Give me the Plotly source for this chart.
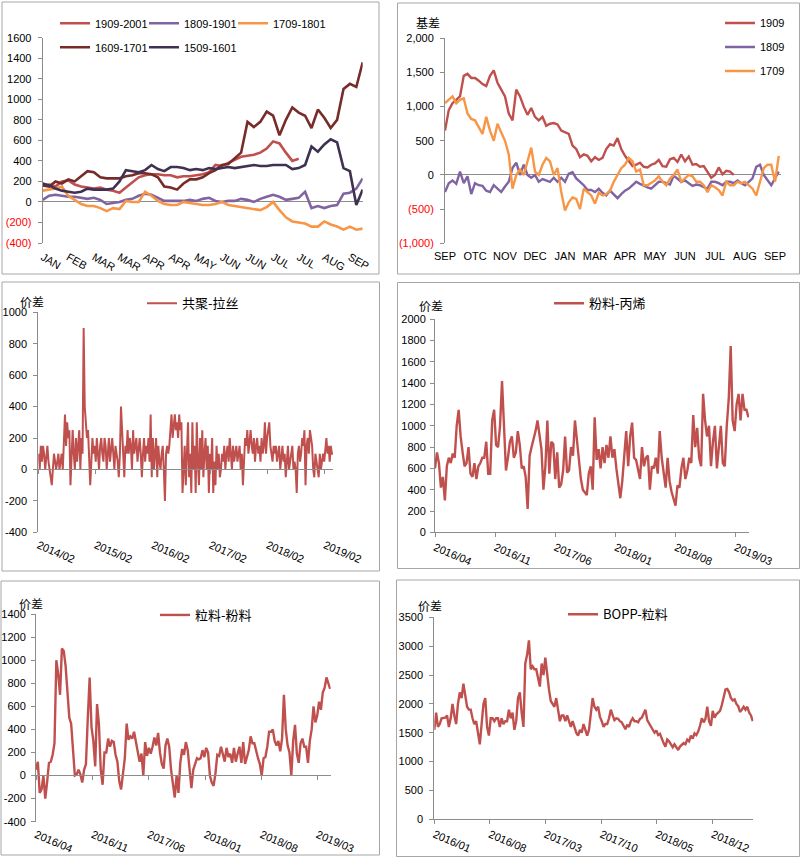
import plotly.graph_objects as go
import pandas as pd

W, H = 804, 859
def fx(p): return p / W
def fy(p): return 1 - p / H

FONT = "Liberation Sans, Arial, Noto Sans CJK SC, sans-serif"
CJK = "Noto Sans CJK SC, Liberation Sans, sans-serif"
AX = "#8C8C8C"
NEG = "#FF0000"

# ---------------- Panel 1: month-aligned spreads ----------------
P1_LABELS = ["JAN", "FEB", "MAR", "MAR", "APR", "APR", "MAY", "JUN", "JUN", "JUL", "JUL", "AUG", "SEP"]
P1_STEP = 0.25
P1_1909_2001 = [160, 170, 150, 200, 210, 170, 150, 140, 130, 140, 120, 110, 90, 140, 190, 240, 260, 270, 270, 260,
                260, 240, 250, 250, 260, 270, 290, 360, 350, 380, 410, 440, 450, 460, 480, 520, 590, 570, 480, 400, 420]
P1_1809_1901 = [20, 60, 70, 60, 50, 50, 40, 30, 40, 20, -20, -10, 0, 20, 30, 60, 80, 70, 40, 10,
                10, 10, 10, 20, 10, 30, 40, 10, 0, 10, 10, 30, 20, 0, 30, 50, 70, 50, 20, 30,
                40, 100, -60, -40, -60, -40, -30, 80, 90, 130, 230]
P1_1709_1801 = [110, 120, 130, 150, 60, 20, -20, -40, -40, -60, -90, -60, -70, 10, 0, 0, 100, 60, 10, -20,
                -30, -30, 0, -10, -20, -30, -30, -20, 0, -30, -40, -50, -60, -70, -80, -50, 0, -80, -150, -190,
                -200, -210, -240, -240, -190, -220, -240, -270, -240, -270, -260]
P1_1609_1701 = [160, 150, 200, 180, 220, 200, 250, 300, 290, 240, 230, 230, 230, 250, 260, 280, 280, 270, 240, 150,
                140, 120, 180, 220, 220, 240, 280, 310, 360, 370, 430, 480, 780, 730, 780, 880, 840, 650, 800, 920,
                870, 840, 720, 900, 820, 720, 800, 1100, 1150, 1120, 1360]
P1_1509_1601 = [180, 160, 130, 110, 100, 90, 100, 130, 120, 120, 120, 130, 200, 310, 300, 290, 310, 360, 320, 300,
                340, 340, 330, 310, 320, 310, 330, 320, 330, 340, 330, 340, 350, 360, 350, 350, 360, 360, 360, 320,
                330, 360, 540, 490, 560, 610, 580, 330, 300, -30, 120]

# ---------------- Panel 2: basis ----------------
P2_LABELS = ["SEP", "OTC", "NOV", "DEC", "JAN", "MAR", "APR", "MAY", "JUN", "JUL", "AUG", "SEP"]
P2_STEP = 0.125
P2_1909 = [650, 950, 1050, 1100, 1150, 1450, 1480, 1420, 1420, 1380, 1330, 1300, 1450, 1530, 1350, 1250,
           1150, 900, 800, 1250, 1150, 1000, 880, 980, 850, 800, 850, 720, 750, 760, 740, 650,
           620, 600, 430, 380, 260, 300, 280, 200, 260, 220, 250, 380, 450, 430, 540, 380,
           280, 200, 130, 150, 180, 120, 110, 150, 170, 220, 130, 120, 230, 250, 190, 300,
           200, 270, 150, 160, 120, 130, 50, -40, 0, 110, 10, 60, 50, 0]
P2_1809 = [-250, -120, -80, -130, 50, -120, -20, -280, -120, -150, -160, -230, -250, -150, -200, -250,
           -170, -100, 100, 180, 0, 150, 0, -40, 0, -100, -60, -80, -100, -40, -100, -40,
           -100, 20, 40, -50, -100, -150, -220, -220, -250, -200, -260, -300, -230, -280, -340, -280,
           -230, -200, -150, -100, -130, -160, -180, -200, -150, -100, -100, -120, -140, -10, -60, -100,
           -80, -120, -160, -140, -150, -180, -200, -100, -100, -120, -150, -100, -100, -120, -80, -120,
           -150, -100, -50, 120, 150, 0, -80, -150, -50, 50]
P2_1709 = [1050, 1100, 1150, 1050, 1100, 1120, 900, 820, 800, 700, 600, 850, 650, 500, 750, 620,
           500, 300, -200, 0, 80, 0, 200, 400, 50, 0, 150, 250, 200, 0, 100, -250,
           -520, -400, -330, -350, -500, -200, -250, -300, -420, -260, -300, -280, -230, -100, 0, 100,
           150, 250, 200, 50, 80, -150, -150, -120, -80, -20, -100, -150, -50, 0, 80, -100,
           -50, 0, -20, -100, -100, -150, -250, -150, -180, -220, -300, -100, -150, -150, -100, -120,
           -100, -150, -200, -300, -100, 100, 150, 150, -100, 280]

# ---------------- Panel 3: 共聚-拉丝 (weekly, 2014/02 - 2019/03) ----------------
P3_VALUES = [100, 0, 150, 50, 150, 100, 0, 100, 150, 50,
             0, -50, -100, 0, 100, 50, 0,
             50, 100, 0, 50, 100, 0,
             200, 350, 150, 300, 200, 250,
             -100,
             150, 250, 100, 0, 200, 50, 150, 250, 0, 200, 100,
             900,
             400, 300, 200, 250,
             100, -100, 50,
             200, 100, 150, 50, 200, 100, 0, 150, 200, 100, 50, 200, 150, 0, 100, 200, 50, 150, 200, 100, 0, 150, 100,
             50, -50, 100,
             400,
             250, 0, -50, 150, 100,
             250, 100, 200, 150, 0, 250, 100, 150, 200, 50, 150, 200,
             100, -50, 100, 200, 50, 150, 100, 200, 50,
             350, -50, 200,
             0, 100, 200, -50, 150, 50, 0, 100, 150, 0, -200,
             100, 150, 100, 150,
             250, 350, 200, 300, 350, 250, 300, 200, 350, 250, 300,
             -150,
             0, 150, -100, 200, 300, -50, 100, -150, 300, 0, 150, -150, 300, 50, -100, 200, 0, 250, -50, 100, 200, 0,
             150, -150, 100, 0, 200, -150, 50, -100, 150, 0, 100, -50, 0,
             100, 50, 150, 0, 100, 150, 50, 200, 100, 0, 150,
             50, 100, 150, 50, 100, 150, 0, 100, -100,
             100, 200, 150, 250, 100, 200, 250, 150, 100, 200, 50, 150, 200, 100, 150, 50,
             200, 100, 150, 300, 100, 200, 250, 300,
             150, 100, 50, 150, 100, 150, 50, 100, 150, 0, 100, 150, 50, 100, -50, 100, 150, 0, 50, 100, 150, 0,
             50, 0, -150, 100, 150, 50,
             100, 200, 150, 250, -100, 150, 200, 100, 250, 200, 150,
             0, -50, 100, 50, 0, -50, 100, 0, 50,
             100, 50, 150, 200, 100, 150, 50, 150, 100, 100]
P3_START, P3_END = "2014-02-03", "2019-03-25"

# ---------------- Panel 4: 粉料-丙烯 (weekly, 2016/04 - 2019/04) ----------------
P4_VALUES = [600, 750, 650, 420, 520, 300, 620, 700, 650, 740,
             700, 1000, 1150, 900, 750, 620, 650, 800, 550, 520,
             650, 500, 620, 650, 700, 700, 850, 550, 550, 1050,
             1150, 820, 800, 1000, 1420, 1000, 580, 700, 850, 900,
             700, 750, 950, 820, 600, 620, 520, 220, 720, 800,
             870, 950, 1050, 900, 780, 400, 620, 1050, 550, 850,
             830, 500, 750, 420, 450, 580, 900, 560, 580, 800,
             720, 1050, 850, 720, 500, 400, 380, 350, 550, 620,
             400, 1080, 680, 780, 600, 800, 650, 820, 700, 900,
             700, 780, 600, 450, 320, 480, 700, 950, 620, 900,
             1030, 700, 680, 600, 500, 800, 620, 700, 720, 400,
             620, 600, 700, 550, 950, 700, 580, 420, 700, 480,
             380, 300, 250, 440, 420, 600, 700, 500, 580, 700,
             650, 1100, 800, 980, 700, 620, 1300, 1050, 900, 1000,
             620, 850, 1000, 600, 800, 1000, 650, 620, 1000, 1250,
             1750, 1050, 950, 1200, 1300, 1050, 1300, 1150, 1150, 1080]
P4_START, P4_END = "2016-04-01", "2019-04-15"

# ---------------- Panel 5: 粒料-粉料 ----------------
P5_VALUES = [50, 120, -150, -120, 0, -200, -60, 110, 120, 180,
             280, 1000, 880, 700, 1100, 1080, 950, 700, 500, 450,
             220, 0, 10, 50, 10, -60, 50, 100, 500, 850,
             420, 300, 80, 620, 450, 50, -80, 200, 200, 320,
             250, 300, 290, 180, 120, -50, -120, 30, 150, 450,
             310, 340, 320, 380, 280, 210, 120, 190, 0, 290,
             170, 240, 190, 250, 330, 260, 370, 200, 100, 60,
             260, 320, 250, 50, -50, -190, 0, -150, 110, 230,
             180, 290, 220, 30, -110, 50, 100, 150, 140, 150,
             220, 160, 240, 200, 0, -60, -90, 20, 180, 170,
             250, 170, 120, 240, 160, 190, 110, 240, 120, 190,
             250, 110, 290, 100, 160, 220, 340, 280, 280, 200,
             150, 100, 0, 150, 160, 250, 380, 380, 400, 300,
             260, 300, 210, 320, 700, 400, 260, 200, 0, 300,
             440, 190, 110, 280, 320, 250, 250, 110, 300, 400,
             600, 460, 520, 640, 570, 720, 760, 850, 800, 750]
P5_START, P5_END = "2016-04-01", "2019-04-18"

# ---------------- Panel 6: BOPP-粒料 ----------------
P6_VALUES = [1550, 1850, 1600, 1650, 1750, 1750, 1760, 1800, 1600, 1750,
             2000, 1800, 1650, 2000, 2200, 2100, 2350, 2150, 1950, 1900,
             1900, 1750, 1650, 1700, 1500, 1300, 1650, 2000, 2100, 1600,
             1450, 1750, 1750, 1700, 1750, 1750, 1600, 1750, 1650, 1700,
             1700, 1900, 1750, 1850, 1550, 1700, 2100, 2200, 1850, 1600,
             2700, 2850, 3100, 2600, 2650, 2600, 2600, 2450, 2300, 2700,
             2500, 2800, 2500, 2250, 2050, 2000, 1950, 2100, 1850, 1700,
             1800, 1800, 1700, 1800, 1700, 1600, 1700, 1600, 1500, 1450,
             1550, 1500, 1650, 1550, 1450, 1550, 1800, 2100, 1950, 1900,
             1950, 1780, 1700, 1600, 1650, 1650, 1750, 1900, 1800, 1720,
             1750, 1740, 1700, 1680, 1620, 1560, 1640, 1600, 1700, 1750,
             1700, 1700, 1680, 1740, 1760, 1840, 1900, 1720, 1660, 1600,
             1550, 1500, 1540, 1460, 1480, 1380, 1320, 1260, 1380, 1350,
             1300, 1250, 1300, 1240, 1200, 1260, 1300, 1320, 1300, 1380,
             1350, 1450, 1400, 1490, 1460, 1520, 1620, 1750, 1680, 1740,
             1950, 1700, 1620, 1880, 1760, 1820, 1850, 1880, 1980, 2100,
             2250, 2260, 2200, 2100, 2060, 2080, 2000, 1960, 1860, 1900,
             1950, 1900, 1950, 1850, 1800, 1700]
P6_START, P6_END = "2016-01-01", "2019-05-03"

C_RED = "#C0504D"
C_PURPLE = "#8064A2"
C_ORANGE = "#F79646"
C_DRED = "#772C2A"
C_DPURPLE = "#403152"

fig = go.Figure()

def idx(vals, step):
    return [i * step for i in range(len(vals))]

def dates(vals, start, end):
    return pd.date_range(start, end, periods=len(vals))

def add(x, y, name, color, xa, ya, leg, width):
    fig.add_trace(go.Scatter(x=x, y=y, name=name, mode="lines", showlegend=True,
                             line=dict(color=color, width=width),
                             xaxis=xa, yaxis=ya, legend=leg, hoverinfo="skip"))

# panel 1
add(idx(P1_1909_2001, P1_STEP), P1_1909_2001, "1909-2001", C_RED, "x", "y", "legend", 2.6)
add(idx(P1_1809_1901, P1_STEP), P1_1809_1901, "1809-1901", C_PURPLE, "x", "y", "legend2", 2.6)
add(idx(P1_1709_1801, P1_STEP), P1_1709_1801, "1709-1801", C_ORANGE, "x", "y", "legend3", 2.6)
add(idx(P1_1609_1701, P1_STEP), P1_1609_1701, "1609-1701", C_DRED, "x", "y", "legend4", 2.6)
add(idx(P1_1509_1601, P1_STEP), P1_1509_1601, "1509-1601", C_DPURPLE, "x", "y", "legend5", 2.6)
# panel 2
add(idx(P2_1909, P2_STEP), P2_1909, "1909", C_RED, "x2", "y2", "legend6", 2.4)
add(idx(P2_1809, P2_STEP), P2_1809, "1809", C_PURPLE, "x2", "y2", "legend7", 2.4)
add(idx(P2_1709, P2_STEP), P2_1709, "1709", C_ORANGE, "x2", "y2", "legend8", 2.4)
# bottom panels
add(dates(P3_VALUES, P3_START, P3_END), P3_VALUES, "共聚-拉丝", C_RED, "x3", "y3", "legend9", 2)
add(dates(P4_VALUES, P4_START, P4_END), P4_VALUES, "粉料-丙烯", C_RED, "x4", "y4", "legend10", 2.4)
add(dates(P5_VALUES, P5_START, P5_END), P5_VALUES, "粒料-粉料", C_RED, "x5", "y5", "legend11", 2.4)
add(dates(P6_VALUES, P6_START, P6_END), P6_VALUES, "BOPP-粒料", C_RED, "x6", "y6", "legend12", 2.4)
# helper empty traces so the zero-line tick axes are drawn
fig.add_trace(go.Scatter(x=[], y=[], xaxis="x7", yaxis="y3", showlegend=False))
fig.add_trace(go.Scatter(x=[], y=[], xaxis="x8", yaxis="y5", showlegend=False))

tickfont = dict(family=FONT, size=11, color="#000000")

def neg(s):
    return "<span style='color:%s'>%s</span>" % (NEG, s)

def yax(anchor, top, bot, rng, vals, texts, standoff, zero=False):
    return dict(anchor=anchor, domain=[fy(bot), fy(top)], range=rng, tickvals=vals, ticktext=texts,
                showline=True, linecolor=AX, linewidth=1, showgrid=False,
                zeroline=zero, zerolinecolor=AX, zerolinewidth=1, automargin=False,
                ticks="outside", ticklen=4, tickcolor=AX,
                tickfont=tickfont, ticklabelstandoff=int(standoff), fixedrange=True)

p1_vals = list(range(-400, 1601, 200))
p1_text = [neg("(400)"), neg("(200)")] + [str(v) for v in range(0, 1601, 200)]
p2_vals = list(range(-1000, 2001, 500))
p2_text = [neg("(1,000)"), neg("(500)"), "0", "500", "1,000", "1,500", "2,000"]

layout = dict(
    width=W, height=H, margin=dict(l=0, r=0, t=0, b=0, autoexpand=False),
    paper_bgcolor="white", plot_bgcolor="rgba(0,0,0,0)", showlegend=True,
    font=dict(family=FONT, size=11, color="#000000"),
    hovermode=False,
    xaxis=dict(domain=[fx(42.7), fx(362.7)], range=[0, 12.5], tickvals=list(range(len(P1_LABELS))),
               ticktext=P1_LABELS, showline=False, showgrid=False, zeroline=False, ticks="",
               tickfont=tickfont, ticklabelstandoff=5, anchor="y", automargin=False, fixedrange=True),
    yaxis=yax("x", 37.7, 243, [-400, 1600], p1_vals, p1_text, 4, zero=True),
    xaxis2=dict(domain=[fx(445), fx(781)], range=[0, 11.2], tickvals=list(range(len(P2_LABELS))),
                ticktext=P2_LABELS, showline=False, showgrid=False, zeroline=False, ticks="",
                tickfont=tickfont, ticklabelstandoff=5, anchor="y2", automargin=False, fixedrange=True),
    yaxis2=yax("x2", 38.3, 243.3, [-1000, 2000], p2_vals, p2_text, 4, zero=True),
    xaxis3=dict(type="date", domain=[fx(38.3), fx(333.3)], range=["2014-02-01", "2019-03-27"],
                tick0="2014-02-01", dtick="M12", tickformat="%Y/%m", tickangle=23,
                showline=False, showgrid=False, zeroline=False, ticks="", tickfont=tickfont,
                ticklabelstandoff=4, anchor="y3", automargin=False, fixedrange=True),
    xaxis7=dict(type="date", overlaying="x3", anchor="free", position=fy(469.3),
                range=["2014-02-01", "2019-03-27"], tick0="2014-02-01", dtick="M12",
                showline=True, linecolor=AX, linewidth=1, ticks="outside", ticklen=4, tickcolor=AX,
                showticklabels=False, showgrid=False, zeroline=False, automargin=False, fixedrange=True),
    yaxis3=yax("x3", 312.3, 532.3, [-400, 1000], list(range(-400, 1001, 200)),
               [str(v) for v in range(-400, 1001, 200)], 4),
    xaxis4=dict(type="date", domain=[fx(435), fx(749)], range=["2016-04-01", "2019-04-17"],
                tick0="2016-04-01", dtick="M7", tickformat="%Y/%m", tickangle=23,
                showline=True, linecolor=AX, linewidth=1, showgrid=False, zeroline=False,
                ticks="outside", ticklen=4, tickcolor=AX, tickfont=tickfont, anchor="y4",
                automargin=False, fixedrange=True),
    yaxis4=yax("x4", 319.3, 532.3, [0, 2000], list(range(0, 2001, 200)),
               [str(v) for v in range(0, 2001, 200)], 2),
    xaxis5=dict(type="date", domain=[fx(36), fx(330.7)], range=["2016-04-01", "2019-04-20"],
                tick0="2016-04-01", dtick="M7", tickformat="%Y/%m", tickangle=23,
                showline=False, showgrid=False, zeroline=False, ticks="", tickfont=tickfont,
                ticklabelstandoff=4, anchor="y5", automargin=False, fixedrange=True),
    xaxis8=dict(type="date", overlaying="x5", anchor="free", position=fy(775.3),
                range=["2016-04-01", "2019-04-20"], tick0="2016-04-01", dtick="M7",
                showline=True, linecolor=AX, linewidth=1, ticks="outside", ticklen=4, tickcolor=AX,
                showticklabels=False, showgrid=False, zeroline=False, automargin=False, fixedrange=True),
    yaxis5=yax("x5", 614, 821.7, [-400, 1400], list(range(-400, 1401, 200)),
               [str(v) for v in range(-400, 1401, 200)], 3),
    xaxis6=dict(type="date", domain=[fx(434.3), fx(753.3)], range=["2016-01-01", "2019-05-05"],
                tick0="2016-01-01", dtick="M7", tickformat="%Y/%m", tickangle=23,
                showline=True, linecolor=AX, linewidth=1, showgrid=False, zeroline=False,
                ticks="outside", ticklen=4, tickcolor=AX, tickfont=tickfont, anchor="y6",
                automargin=False, fixedrange=True),
    yaxis6=yax("x6", 617.3, 819.3, [0, 3500], list(range(0, 3501, 500)),
               [str(v) for v in range(0, 3501, 500)], 4),
)

# one legend box per entry, placed like the original chart legends (px positions of line start)
LEG_POS = {
    "legend": (60, 23.3, 11, FONT), "legend2": (149, 23.3, 11, FONT), "legend3": (238, 23.3, 11, FONT),
    "legend4": (60, 47.3, 11, FONT), "legend5": (149, 47.3, 11, FONT),
    "legend6": (725, 23, 11, FONT), "legend7": (725, 47, 11, FONT), "legend8": (725, 71, 11, FONT),
    "legend9": (147, 303.3, 13, CJK), "legend10": (554, 303.3, 13, CJK),
    "legend11": (160, 615, 13, CJK), "legend12": (568, 614.3, 13, CJK),
}
for key, (lx, ly, fs, fam) in LEG_POS.items():
    layout[key] = dict(x=fx(lx - 5), y=fy(ly), xanchor="left", yanchor="middle",
                       bgcolor="rgba(0,0,0,0)", borderwidth=0, itemwidth=30,
                       font=dict(family=fam, size=fs, color="#000000"))

# panel frames
frames = [(2, 2, 379, 274), (397.5, 3, 799.5, 274), (2, 282, 379.5, 571),
          (397.5, 282.5, 799.5, 568.5), (1, 581, 379.5, 855), (396.5, 580, 799.5, 856.5)]
layout["shapes"] = [dict(type="rect", xref="paper", yref="paper", x0=fx(a), x1=fx(c), y0=fy(d), y1=fy(b),
                         line=dict(color="#A6A6A6", width=1), fillcolor="rgba(0,0,0,0)", layer="below")
                    for a, b, c, d in frames]

titles = [("基差", 428, 23), ("价差", 31.5, 301), ("价差", 431, 305), ("价差", 30.5, 603.5), ("价差", 430, 605)]
layout["annotations"] = [dict(text=t, x=fx(x), y=fy(y), xref="paper", yref="paper", showarrow=False,
                              xanchor="center", yanchor="middle",
                              font=dict(family=CJK, size=12, color="#000000"))
                         for t, x, y in titles]

fig.update_layout(**layout)
fig.write_html("out.html", post_script="document.body.style.margin='0';",
               config={"displayModeBar": False})
